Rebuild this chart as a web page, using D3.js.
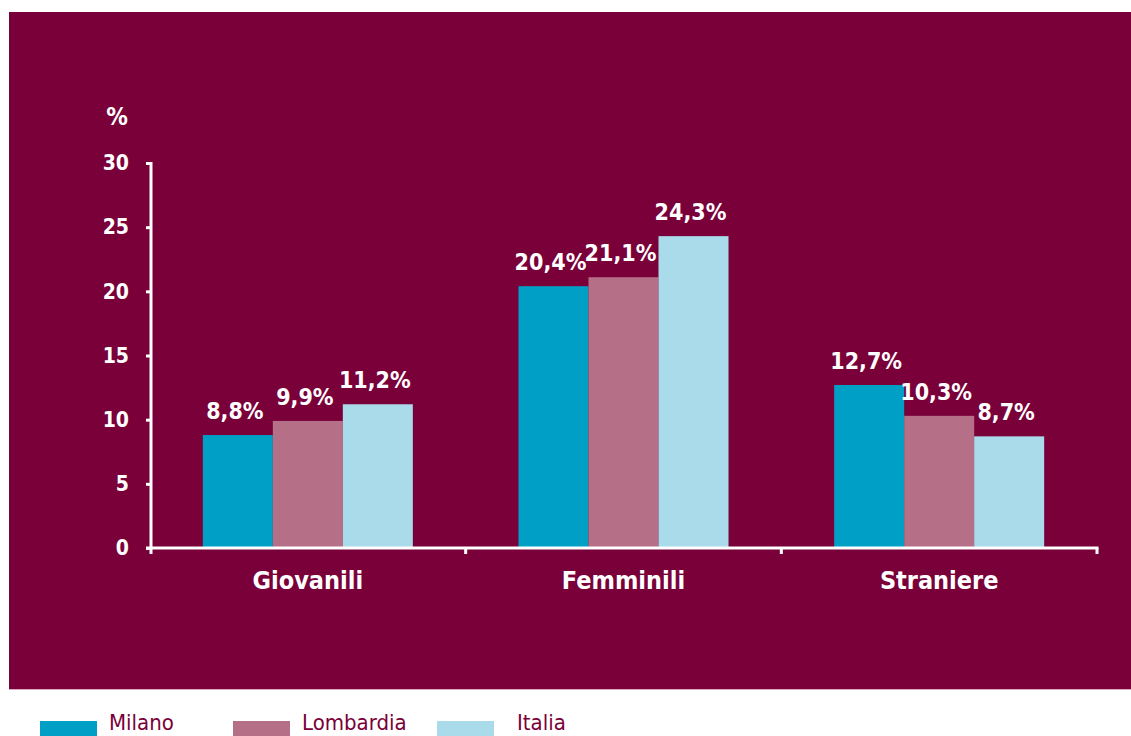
<!DOCTYPE html>
<html>
<head>
<meta charset="utf-8">
<script src="https://cdn.jsdelivr.net/npm/d3@7"></script>
<style>
  body { margin: 0; background: #fff; }
  svg text { font-family: "Liberation Sans Narrow", "DejaVu Sans Condensed", sans-serif; }
</style>
</head>
<body>
<div id="d3-container"></div>
<script>
// data
const categories = ["Giovanili", "Femminili", "Straniere"];
const seriesNames = ["Milano", "Lombardia", "Italia"];
const milano = [8.8, 20.4, 12.7];
const lombardia = [9.9, 21.1, 10.3];
const italia = [11.2, 24.3, 8.7];
const yTicks = [0, 5, 10, 15, 20, 25, 30];

const colors = ["#00a0c6", "#b56f87", "#aadbeb"];
const bg = "#7a0039";

const width = 1131, height = 736;
const values = [milano, lombardia, italia];

// rows per category for the join
const rows = categories.map((c, i) => ({
  cat: c,
  vals: seriesNames.map((s, j) => ({ series: s, value: values[j][i] }))
}));

const svg = d3.select("#d3-container")
  .append("svg")
  .attr("width", width)
  .attr("height", height);

// maroon panel
svg.append("rect")
  .attr("x", 9).attr("y", 12)
  .attr("width", width - 9).attr("height", 677)
  .attr("fill", bg);
svg.append("line")
  .attr("x1", 9).attr("x2", width)
  .attr("y1", 689.5).attr("y2", 689.5)
  .attr("stroke", "#d9a9bd").attr("stroke-width", 1);

// scales
const xScale = d3.scaleBand().domain(categories).range([150, 1097]);
const xInner = d3.scaleBand().domain(seriesNames)
  .range([(xScale.bandwidth() - 210) / 2, (xScale.bandwidth() + 210) / 2]);
const yScale = d3.scaleLinear().domain([0, 30]).range([548, 163]);
const color = d3.scaleOrdinal().domain(seriesNames).range(colors);

// bars
const groups = svg.selectAll(".group")
  .data(rows)
  .join("g")
  .attr("class", "group")
  .attr("transform", d => `translate(${xScale(d.cat)},0)`);

groups.selectAll("rect")
  .data(d => d.vals)
  .join("rect")
  .attr("x", d => xInner(d.series))
  .attr("width", xInner.bandwidth())
  .attr("y", d => yScale(d.value))
  .attr("height", d => yScale(0) - yScale(d.value))
  .attr("fill", d => color(d.series));

groups.selectAll(".val")
  .data(d => d.vals)
  .join("text")
  .attr("class", "val")
  .attr("x", d => xInner(d.series) + xInner.bandwidth() / 2 - 3)
  .attr("y", d => yScale(d.value) - 16)
  .attr("text-anchor", "middle")
  .attr("fill", "#fff")
  .attr("font-weight", "bold")
  .attr("font-size", 23)
  .text(d => d.value.toFixed(1).replace(".", ",") + "%");

// y axis
const yAxis = d3.axisLeft(yScale)
  .tickValues(yTicks)
  .tickSize(5)
  .tickSizeOuter(0)
  .tickPadding(17);

const yG = svg.append("g")
  .attr("transform", "translate(151,0)")
  .call(yAxis);
yG.select(".domain").remove();
yG.selectAll(".tick line").attr("stroke", "#fff").attr("stroke-width", 3);
yG.selectAll(".tick text")
  .attr("fill", "#fff")
  .attr("font-size", 21)
  .attr("font-weight", "bold")
  .attr("font-family", "Liberation Sans Narrow, DejaVu Sans Condensed, sans-serif");
yG.append("line")
  .attr("x1", 0).attr("x2", 0)
  .attr("y1", yScale(30) - 1).attr("y2", yScale(0) + 6)
  .attr("stroke", "#fff").attr("stroke-width", 3);

svg.append("text")
  .attr("x", 117).attr("y", 125)
  .attr("text-anchor", "middle")
  .attr("fill", "#fff")
  .attr("font-weight", "bold")
  .attr("font-size", 24)
  .text("%");

// x axis
const xG = svg.append("g");
xG.append("line")
  .attr("x1", 146).attr("x2", xScale.range()[1] + 1.5)
  .attr("y1", yScale(0)).attr("y2", yScale(0))
  .attr("stroke", "#fff").attr("stroke-width", 3);
const bounds = categories.slice(1).map(c => xScale(c)).concat([xScale.range()[1]]);
xG.selectAll(".xtick")
  .data(bounds)
  .join("line")
  .attr("class", "xtick")
  .attr("x1", d => d).attr("x2", d => d)
  .attr("y1", yScale(0)).attr("y2", yScale(0) + 6)
  .attr("stroke", "#fff").attr("stroke-width", 3);

xG.selectAll(".cat")
  .data(categories)
  .join("text")
  .attr("class", "cat")
  .attr("x", d => xScale(d) + xScale.bandwidth() / 2)
  .attr("y", 589)
  .attr("text-anchor", "middle")
  .attr("fill", "#fff")
  .attr("font-weight", "bold")
  .attr("font-size", 25)
  .text(d => d);

// legend
const legendX = [40, 233, 437];
const legend = svg.selectAll(".legend")
  .data(seriesNames)
  .join("g")
  .attr("class", "legend")
  .attr("transform", (d, i) => `translate(${legendX[i]},0)`);
legend.append("rect")
  .attr("x", 0).attr("y", 721)
  .attr("width", 57).attr("height", 15)
  .attr("fill", d => color(d));
legend.append("text")
  .attr("x", (d, i) => i === 2 ? 80 : 69)
  .attr("y", 730)
  .attr("fill", bg)
  .attr("font-size", 22)
  .text(d => d);
</script>
</body>
</html>
